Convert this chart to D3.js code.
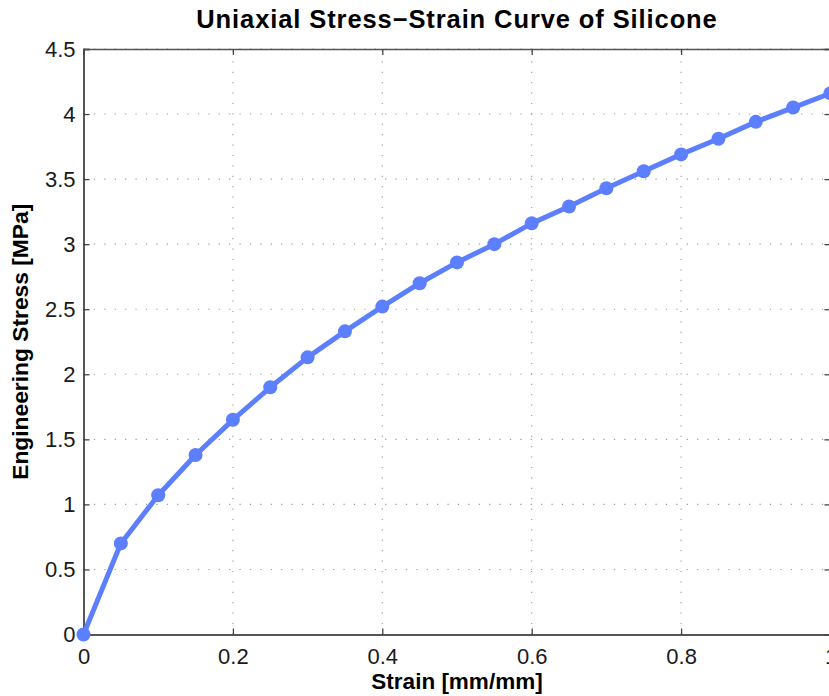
<!DOCTYPE html>
<html>
<head>
<meta charset="utf-8">
<script src="https://cdn.jsdelivr.net/npm/d3@7"></script>
<style>
  html, body { margin: 0; padding: 0; background: #fff; overflow: hidden; }
  svg { display: block; font-family: "Liberation Sans", Arial, Helvetica, sans-serif; }
</style>
</head>
<body>
<svg id="chart" width="829" height="696"></svg>
<script>
// Strain samples (mm/mm) and measured engineering stress (MPa)
const strain = [0, 0.05, 0.1, 0.15, 0.2, 0.25, 0.3, 0.35, 0.4, 0.45, 0.5,
                0.55, 0.6, 0.65, 0.7, 0.75, 0.8, 0.85, 0.9, 0.95, 1.0];
const stress = [0, 0.70, 1.07, 1.38, 1.65, 1.90, 2.13, 2.33, 2.52, 2.70, 2.86,
                3.00, 3.16, 3.29, 3.43, 3.56, 3.69, 3.81, 3.94, 4.05, 4.16];
const xTicks = [0, 0.2, 0.4, 0.6, 0.8, 1];
const yTicks = [0, 0.5, 1, 1.5, 2, 2.5, 3, 3.5, 4, 4.5];

const title = "Uniaxial Stress\u2212Strain Curve of Silicone";
const xLabel = "Strain [mm/mm]";
const yLabel = "Engineering Stress [MPa]";

const svg = d3.select("#chart");
const plot = { left: 83.5, right: 830.5, top: 49, bottom: 634.5 };

const x = d3.scaleLinear().domain([0, 1]).range([plot.left, plot.right]);
const y = d3.scaleLinear().domain([0, 4.5]).range([plot.bottom, plot.top]);

const g = svg.append("g");

// Dotted grid
g.append("g").selectAll("line").data(xTicks.slice(1)).join("line")
  .attr("x1", d => x(d)).attr("x2", d => x(d))
  .attr("y1", plot.bottom).attr("y2", plot.top)
  .attr("stroke", "#9a9a9a").attr("stroke-width", 1.1)
  .attr("stroke-dasharray", "1.2,9.2");
g.append("g").selectAll("line").data(yTicks.slice(1)).join("line")
  .attr("x1", plot.left).attr("x2", plot.right)
  .attr("y1", d => y(d)).attr("y2", d => y(d))
  .attr("stroke", "#9a9a9a").attr("stroke-width", 1.1)
  .attr("stroke-dasharray", "1.2,9.2");

// Axes with inward ticks
const tickFont = 22;
const xAxis = d3.axisBottom(x).tickValues(xTicks).tickSize(-6).tickPadding(14)
  .tickFormat(d => String(d));
const yAxis = d3.axisLeft(y).tickValues(yTicks).tickSize(-6).tickPadding(8)
  .tickFormat(d => String(d));
const xTop = d3.axisTop(x).tickValues(xTicks).tickSize(-6).tickFormat("");
const yRight = d3.axisRight(y).tickValues(yTicks).tickSize(-6).tickFormat("");

const gx = g.append("g").attr("transform", `translate(0,${plot.bottom})`).call(xAxis);
const gy = g.append("g").attr("transform", `translate(${plot.left},0)`).call(yAxis);
const gt = g.append("g").attr("transform", `translate(0,${plot.top})`).call(xTop);
const gr = g.append("g").attr("transform", `translate(${plot.right},0)`).call(yRight);

[gx, gy, gt, gr].forEach(a => {
  a.selectAll(".tick line").attr("stroke", "#444").attr("stroke-width", 1.3);
  a.selectAll("text").attr("font-size", tickFont).attr("fill", "#1a1a1a")
    .attr("font-family", "'Liberation Sans', Arial, sans-serif");
});
gx.select(".domain").attr("stroke", "#555").attr("stroke-width", 2);
gt.select(".domain").attr("stroke", "#555").attr("stroke-width", 1.6);
gy.select(".domain").attr("stroke", "#111").attr("stroke-width", 1.4);
gr.select(".domain").attr("stroke", "#555").attr("stroke-width", 1.6);

// Data line and markers
const pts = strain.map((s, i) => [s, stress[i]]);
const lineColor = "#5c7fff";
g.append("path")
  .datum(pts)
  .attr("fill", "none")
  .attr("stroke", lineColor)
  .attr("stroke-width", 5)
  .attr("stroke-linejoin", "round")
  .attr("d", d3.line().x(d => x(d[0])).y(d => y(d[1])));
g.append("g").selectAll("circle").data(pts).join("circle")
  .attr("cx", d => x(d[0])).attr("cy", d => y(d[1]))
  .attr("r", 7).attr("fill", lineColor);

// Titles
svg.append("text")
  .attr("x", (plot.left + plot.right) / 2).attr("y", 28)
  .attr("text-anchor", "middle")
  .attr("font-size", 25.5).attr("font-weight", "bold").attr("fill", "#000")
  .attr("letter-spacing", 0.9)
  .text(title);
svg.append("text")
  .attr("x", (plot.left + plot.right) / 2).attr("y", 689)
  .attr("text-anchor", "middle")
  .attr("font-size", 22.5).attr("font-weight", "bold").attr("fill", "#000")
  .text(xLabel);
svg.append("text")
  .attr("transform", `translate(28,${(plot.top + plot.bottom) / 2}) rotate(-90)`)
  .attr("text-anchor", "middle")
  .attr("font-size", 22.8).attr("font-weight", "bold").attr("fill", "#000")
  .text(yLabel);
</script>
</body>
</html>
